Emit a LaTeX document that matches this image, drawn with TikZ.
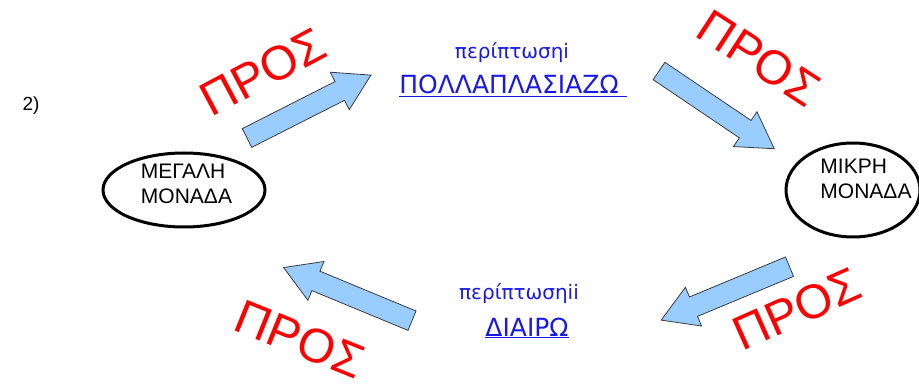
\documentclass[tikz,border=0pt]{standalone}
\usepackage{fontspec}
\setmainfont{Liberation Sans}
\newfontfamily\comicfont{DejaVu Sans}
\usetikzlibrary{shapes.geometric}
\definecolor{arrowfill}{RGB}{153,204,255}
\definecolor{arrowedge}{RGB}{60,60,60}
\definecolor{textblue}{RGB}{25,25,230}
\begin{document}
\begin{tikzpicture}[x=1pt,y=-1pt,
  unitbox/.style={draw=black, line width=3pt, ellipse, inner sep=0pt},
  unitlabel/.style={font=\fontsize{21}{25}\selectfont, align=left, inner sep=0pt},
  prostext/.style={text=red, font=\fontsize{48}{48}\selectfont, inner sep=0pt},
  casetext/.style={text=textblue, font=\comicfont\fontsize{20}{22}\selectfont, inner sep=0pt, anchor=base},
  casecaps/.style={text=textblue, font=\comicfont\fontsize{25}{27}\selectfont, inner sep=0pt, anchor=base},
  blockarrow/.pic={\draw[fill=arrowfill, draw=arrowedge, line width=0.8pt, line join=miter]
    (0,-10.5) -- (104,-10.5) -- (104,-21) -- (139,0) -- (104,21) -- (104,10.5) -- (0,10.5) -- cycle;}
]
\useasboundingbox (0,0) rectangle (919,385);

\node[font=\fontsize{19}{22}\selectfont, inner sep=0pt] (num) at (31,106) {2)};

% units
\node[unitbox, minimum width=162pt, minimum height=74pt] (big) at (184,190) {};
\node[unitlabel] (bigtext) at (186.5,184) {ΜΕΓΑΛΗ\\ΜΟΝΑΔΑ};
\node[unitbox, minimum width=134pt, minimum height=94pt] (small) at (853,190) {};
\node[unitlabel] (smalltext) at (866,179) {ΜΙΚΡΗ\\ΜΟΝΑΔΑ};

% block arrows
\pic[rotate=26.9] (arrowA) at (247,138) {blockarrow};
\pic[rotate=-34] (arrowB) at (659,71) {blockarrow};
\pic[rotate=202.6] (arrowC) at (789.5,266.7) {blockarrow};
\pic[rotate=157.5] (arrowD) at (412,320.7) {blockarrow};

% ΠΡΟΣ labels
\node[prostext, rotate=28] (prosA) at (263,72) {ΠΡΟΣ};
\node[prostext, rotate=-33] (prosB) at (759,58) {ΠΡΟΣ};
\node[prostext, rotate=24] (prosC) at (797,309) {ΠΡΟΣ};
\node[prostext, rotate=-22] (prosD) at (300,339) {ΠΡΟΣ};

% case texts
\node[casetext] (caseone) at (512,59) {περίπτωσηi};
\node[casecaps] (mult) at (513,94) {\underline{ΠΟΛΛΑΠΛΑΣΙΑΖΩ\ }};
\node[casetext] (casetwo) at (519,299) {περίπτωσηii};
\node[casecaps] (divide) at (527,336) {\underline{ΔΙΑΙΡΩ}};
\end{tikzpicture}
\end{document}
